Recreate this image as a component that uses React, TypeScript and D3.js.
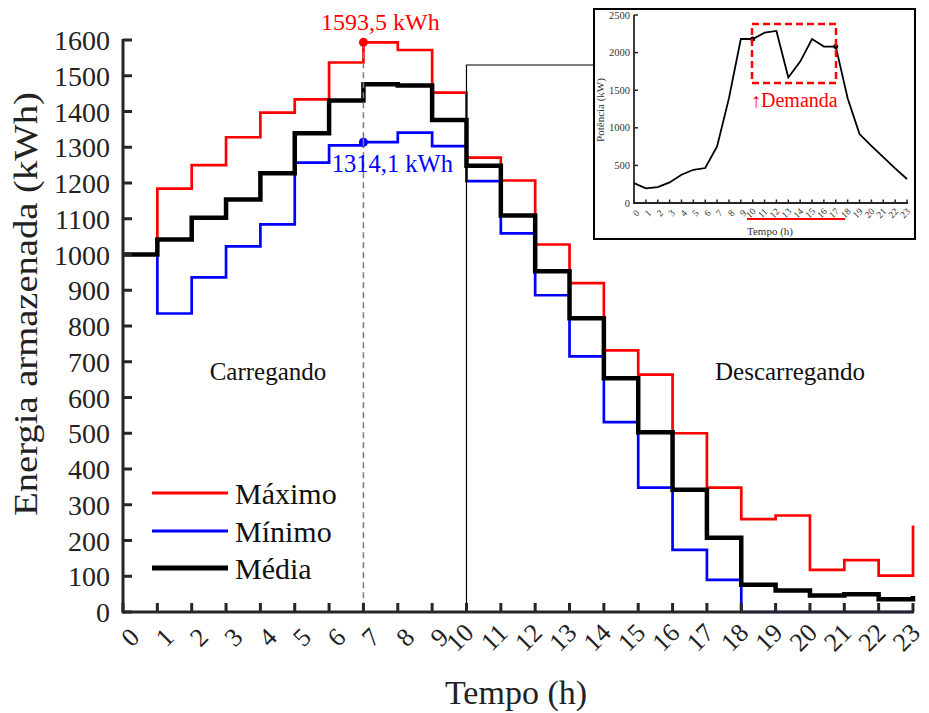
import React from "react";
import * as d3 from "d3";

const hours = d3.range(0, 24);
const maximo = [1000, 1184, 1250, 1328, 1397, 1434, 1537, 1593.5, 1572, 1453, 1271, 1207, 1028, 920, 732, 664, 500, 348, 260, 270, 118, 145, 102, 242];
const minimo = [1000, 835, 936, 1023, 1084, 1257, 1305, 1314.1, 1341, 1303, 1205, 1059, 886, 715, 531, 348, 174, 90, 0, 0, 0, 0, 0, 0];
const media = [1000, 1042, 1103, 1154, 1227, 1339, 1431, 1476, 1473, 1376, 1248, 1109, 953, 822, 654, 503, 342, 208, 76, 60, 46, 50, 36, 45];
const yTicks = d3.range(0, 1601, 100);
const demanda = [265, 195, 212, 274, 376, 442, 465, 752, 1394, 2181, 2181, 2265, 2288, 1668, 1881, 2181, 2080, 2080, 1394, 916, 760, 610, 460, 319];
const insetYTicks = [0, 500, 1000, 1500, 2000, 2500];

const FONT = "'Liberation Serif', 'Times New Roman', serif";

export default function App() {
  const W = 929, H = 713;
  const x = d3.scaleLinear().domain([0, 23]).range([123, 913]);
  const y = d3.scaleLinear().domain([0, 1600]).range([612, 40]);
  const line = d3.line<number>().x((_, i) => x(i)).y((d) => y(d)).curve(d3.curveStepAfter);

  const xi = d3.scaleLinear().domain([0, 23]).range([634, 907]);
  const yi = d3.scaleLinear().domain([0, 2500]).range([203, 15]);
  const lineI = d3.line<number>().x((_, i) => xi(i)).y((d) => yi(d));

  const axisColor = "#262626";
  const peakX = x(7);

  return (
    <svg width={W} height={H} style={{ position: "absolute", left: 0, top: 0 }} fontFamily={FONT}>
      <rect width={W} height={H} fill="#fff" />
      {/* series */}
      <path d={line(maximo)!} fill="none" stroke="#ff0000" strokeWidth={2.7} />
      <path d={line(minimo)!} fill="none" stroke="#0000ff" strokeWidth={2.7} />
      <path d={line(media)!} fill="none" stroke="#000" strokeWidth={4.5} />

      {/* dashed peak line */}
      <line x1={peakX} x2={peakX} y1={y(maximo[7])} y2={612} stroke="#808080" strokeWidth={1.6} strokeDasharray="6,4" />
      <circle cx={peakX} cy={y(maximo[7])} r={4.5} fill="#ff0000" />
      <circle cx={peakX} cy={y(minimo[7])} r={4.5} fill="#0000ff" />
      <line x1={peakX} x2={peakX} y1={y(minimo[7]) - 4} y2={y(minimo[7]) + 4} stroke="#808080" strokeWidth={1.6} />
      <text x={peakX + 17} y={30} fill="#ff0000" fontSize={24} textAnchor="middle">1593,5 kWh</text>
      <text x={peakX + 29} y={172} fill="#0000ff" fontSize={24.5} textAnchor="middle">1314,1 kWh</text>

      {/* connector to inset */}
      <polyline points={`${x(10)},612 ${x(10)},65 595,65`} fill="none" stroke="#000" strokeWidth={1.2} />

      {/* axes */}
      <line x1={123} x2={914} y1={612} y2={612} stroke={axisColor} strokeWidth={3} />
      <line x1={123} x2={123} y1={39} y2={613.5} stroke={axisColor} strokeWidth={3} />
      {yTicks.map((t) => (
        <g key={t}>
          <line x1={123} x2={132} y1={y(t)} y2={y(t)} stroke={axisColor} strokeWidth={3} />
          <text x={110} y={y(t)} dy="0.36em" fontSize={28} textAnchor="end" fill="#222">{t}</text>
        </g>
      ))}
      {hours.map((h) => (
        <g key={h}>
          <line x1={x(h)} x2={x(h)} y1={612} y2={603} stroke={axisColor} strokeWidth={3} />
          <text transform={`translate(${x(h) + (h < 10 ? 7 : -7)},${637}) rotate(-45)`} fontSize={26} textAnchor="middle" dy="0.35em" fill="#222">{h}</text>
        </g>
      ))}
      <text x={516} y={704} fontSize={34} textAnchor="middle" fill="#222">Tempo (h)</text>
      <text transform={`translate(37,304) rotate(-90) scale(1.17,1)`} fontSize={33} textAnchor="middle" fill="#222">Energia armazenada (kWh)</text>

      <text x={268} y={380} fontSize={25} textAnchor="middle" fill="#111">Carregando</text>
      <text x={790} y={380} fontSize={25} textAnchor="middle" fill="#111">Descarregando</text>

      {/* legend */}
      {[
        { label: "Máximo", color: "#ff0000", w: 3, cy: 493 },
        { label: "Mínimo", color: "#0000ff", w: 3, cy: 531 },
        { label: "Média", color: "#000", w: 5, cy: 568 },
      ].map((d) => (
        <g key={d.label}>
          <line x1={152} x2={228} y1={d.cy} y2={d.cy} stroke={d.color} strokeWidth={d.w} />
          <text x={235} y={d.cy} dy="0.35em" fontSize={30} fill="#111">{d.label}</text>
        </g>
      ))}

      {/* inset */}
      <rect x={594} y={9} width={321} height={230} fill="#fff" stroke="#000" strokeWidth={2} />
      <line x1={634} x2={908} y1={203} y2={203} stroke={axisColor} strokeWidth={1.8} />
      <line x1={634} x2={634} y1={15} y2={204} stroke={axisColor} strokeWidth={1.8} />
      {insetYTicks.map((t) => (
        <g key={t}>
          <line x1={634} x2={638} y1={yi(t)} y2={yi(t)} stroke={axisColor} strokeWidth={1.5} />
          <text x={630} y={yi(t)} dy="0.35em" fontSize={10.5} textAnchor="end" fill="#333">{t}</text>
        </g>
      ))}
      {hours.map((h) => (
        <g key={h}>
          <line x1={xi(h)} x2={xi(h)} y1={203} y2={199.5} stroke={axisColor} strokeWidth={1.5} />
          <text transform={`translate(${xi(h) + (h < 10 ? 2 : -2)},${213}) rotate(-45)`} fontSize={9.5} textAnchor="middle" dy="0.35em" fill="#333">{h}</text>
        </g>
      ))}
      <path d={lineI(demanda)!} fill="none" stroke="#000" strokeWidth={1.8} />
      <circle cx={xi(10)} cy={yi(demanda[10])} r={2.5} fill="#000" />
      <circle cx={xi(17)} cy={yi(demanda[17])} r={2.5} fill="#000" />
      <rect x={752} y={24} width={84} height={59} fill="none" stroke="#ff0000" strokeWidth={2.5} strokeDasharray="7,4" />
      <text x={751} y={107} fontSize={20} fill="#ff0000">↑Demanda</text>
      <line x1={747} x2={845} y1={219} y2={219} stroke="#ff0000" strokeWidth={2} />
      <text x={770} y={235} fontSize={11} textAnchor="middle" fill="#333">Tempo (h)</text>
      <text transform={`translate(604,110) rotate(-90)`} fontSize={11} textAnchor="middle" fill="#333">Potência (kW)</text>
    </svg>
  );
}
